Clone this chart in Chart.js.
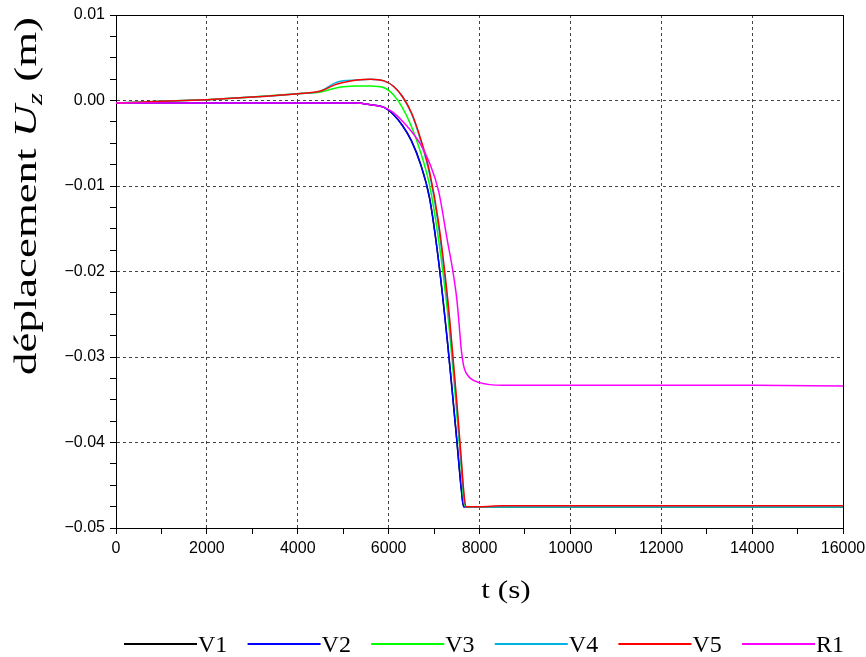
<!DOCTYPE html>
<html>
<head>
<meta charset="utf-8">
<script src="https://cdn.jsdelivr.net/npm/chart.js@4.4.1/dist/chart.umd.min.js"></script>
<style>
    body { margin: 0; background: #fff; }
    #wrap { width: 866px; height: 657px; }
</style>
</head>
<body>
<div id="wrap"><canvas id="canvas1" width="866" height="657"></canvas></div>
<script>
// temps (s)
let temps = [0, 1000, 2000, 3000, 4000, 4500, 4800, 5000, 5300, 5600, 5900, 6100, 6300, 6500,
    6700, 6900, 7100, 7300, 7400, 7500, 7550, 7600, 7650, 7700, 7800, 8000, 8500, 10000, 12000, 14000, 16000];

// déplacement Uz (m) pour chaque cas
let v1 = [-0.0003, -0.0003, -0.0003, -0.0003, -0.0003, -0.0003, -0.0003, -0.0003, -0.0003, -0.0005,
    -0.0008, -0.0016, -0.0029, -0.0047, -0.0074, -0.0114, -0.0188, -0.0285, -0.0340, -0.0397, -0.0427,
    -0.0455, -0.0475, -0.0475, -0.0475, -0.0475, -0.0475, -0.0475, -0.0475, -0.0475, -0.0475];
let v2 = [-0.0003, -0.0003, -0.0003, -0.0003, -0.0003, -0.0003, -0.0003, -0.0003, -0.0003, -0.0005,
    -0.0008, -0.0016, -0.0029, -0.0047, -0.0074, -0.0114, -0.0188, -0.0285, -0.0340, -0.0397, -0.0427,
    -0.0455, -0.0475, -0.0475, -0.0475, -0.0475, -0.0475, -0.0475, -0.0475, -0.0475, -0.0475];
let v3 = [-0.0003, -0.0001, 0.0001, 0.0004, 0.0008, 0.0010, 0.0014, 0.0016, 0.0017, 0.0017,
    0.0015, 0.0007, -0.0008, -0.0030, -0.0060, -0.0099, -0.0163, -0.0249, -0.0305, -0.0365, -0.0397,
    -0.0430, -0.0465, -0.0475, -0.0475, -0.0475, -0.0475, -0.0475, -0.0475, -0.0475, -0.0475];
let v4 = [-0.0003, -0.0001, 0.0001, 0.0004, 0.0008, 0.0011, 0.0020, 0.0023, 0.0024, 0.0025,
    0.0023, 0.0017, 0.0005, -0.0015, -0.0046, -0.0086, -0.0148, -0.0238, -0.0295, -0.0358, -0.0392,
    -0.0425, -0.0460, -0.0475, -0.0475, -0.0475, -0.0475, -0.0475, -0.0475, -0.0475, -0.0475];
let v5 = [-0.0003, -0.0001, 0.0001, 0.0004, 0.0008, 0.0011, 0.0018, 0.0021, 0.0024, 0.0025,
    0.0023, 0.0017, 0.0005, -0.0014, -0.0044, -0.0083, -0.0143, -0.0232, -0.0290, -0.0352, -0.0386,
    -0.0420, -0.0455, -0.0475, -0.0475, -0.0475, -0.0474, -0.0474, -0.0474, -0.0474, -0.0474];
let r1 = [-0.0003, -0.0003, -0.0003, -0.0003, -0.0003, -0.0003, -0.0003, -0.0003, -0.0003, -0.0005,
    -0.0008, -0.0014, -0.0024, -0.0036, -0.0051, -0.0073, -0.0106, -0.0166, -0.0195, -0.0232, -0.0261,
    -0.0292, -0.0310, -0.0318, -0.0325, -0.0330, -0.0333, -0.0333, -0.0333, -0.0333, -0.0334];

let noms = ['V1', 'V2', 'V3', 'V4', 'V5', 'R1'];
let series = [v1, v2, v3, v4, v5, r1];
let couleurs = ['#000000', '#0000ff', '#00ff00', '#00b4e6', '#ff0000', '#ff00ff'];
let ordres = [6, 5, 4, 3, 2, 1];

// ticks
let xMin = 0, xMax = 16000, xPas = 1000, xMajeur = 2000;
let yMin = -0.05, yMax = 0.01, yPas = 0.0025, yMajeur = 0.01;

function estMajeurY(v) {
    return Math.abs(v / yMajeur - Math.round(v / yMajeur)) < 1e-6;
}
function estMajeurX(v) {
    return v % xMajeur === 0;
}

let datasets = series.map(function (vals, i) {
    return {
        label: noms[i],
        data: temps.map(function (t, j) { return {x: t, y: vals[j]}; }),
        borderColor: couleurs[i],
        backgroundColor: couleurs[i],
        borderWidth: 1.5,
        pointRadius: 0,
        cubicInterpolationMode: 'monotone',
        order: ordres[i]
    };
});

// titres des axes, cadre et légende
let decor = {
    id: 'decor',
    afterDraw: function (chart) {
        let ctx = chart.ctx;
        let area = chart.chartArea;
        ctx.save();
        // cadre haut et droit
        ctx.strokeStyle = '#000';
        ctx.lineWidth = 1;
        ctx.beginPath();
        ctx.moveTo(area.left, area.top + 0.5);
        ctx.lineTo(area.right + 0.5, area.top + 0.5);
        ctx.lineTo(area.right + 0.5, area.bottom);
        ctx.stroke();

        ctx.fillStyle = '#000';
        // titre x
        ctx.font = '26px "Liberation Serif"';
        ctx.textAlign = 'center';
        ctx.textBaseline = 'alphabetic';
        ctx.translate(506, 598);
        ctx.scale(1.2, 1);
        ctx.fillText('t (s)', 0, 0);
        ctx.setTransform(1, 0, 0, 1, 0, 0);

        // titre y : déplacement U_z (m)
        let fNormal = '32px "Liberation Serif"';
        let fItal = 'italic 32px "Liberation Serif"';
        let fSub = 'italic 22px "Liberation Serif"';
        let morceaux = [
            {t: 'déplacement ', f: fNormal, dy: 0},
            {t: 'U', f: fItal, dy: 0},
            {t: 'z', f: fSub, dy: 6},
            {t: ' (m)', f: fNormal, dy: 0}
        ];
        let total = 0;
        morceaux.forEach(function (m) {
            ctx.font = m.f;
            m.w = ctx.measureText(m.t).width;
            total += m.w;
        });
        ctx.translate(36, 196);
        ctx.rotate(-Math.PI / 2);
        ctx.scale(1.4, 1);
        ctx.textAlign = 'left';
        let x = -total / 2;
        morceaux.forEach(function (m) {
            ctx.font = m.f;
            ctx.fillText(m.t, x, m.dy);
            x += m.w;
        });
        ctx.setTransform(1, 0, 0, 1, 0, 0);

        // légende
        ctx.font = '24px "Liberation Serif"';
        ctx.textAlign = 'left';
        let ly = 644;
        noms.forEach(function (nom, i) {
            let lx = 124 + i * 123.6;
            ctx.strokeStyle = couleurs[i];
            ctx.lineWidth = 2;
            ctx.beginPath();
            ctx.moveTo(lx, ly);
            ctx.lineTo(lx + 73, ly);
            ctx.stroke();
            ctx.fillStyle = '#000';
            ctx.fillText(nom, lx + 74, ly + 8);
        });
        ctx.restore();
    }
};

let ctx1 = document.getElementById('canvas1').getContext('2d');
let graphe = new Chart(ctx1, {
    type: 'line',
    data: {datasets: datasets},
    options: {
        responsive: false,
        animation: false,
        devicePixelRatio: 1,
        layout: {padding: {left: 0, top: 15, right: 23, bottom: 0}},
        plugins: {
            legend: {display: false},
            tooltip: {enabled: false}
        },
        scales: {
            x: {
                type: 'linear',
                min: xMin,
                max: xMax,
                afterFit: function (s) {
                    s.height = 129;
                    s.paddingRight = 0;
                    s.paddingLeft = 0;
                },
                ticks: {
                    stepSize: xPas,
                    autoSkip: false,
                    maxRotation: 0,
                    padding: 5,
                    color: '#000',
                    font: {family: '"Liberation Sans", Arial', size: 16},
                    callback: function (v) { return estMajeurX(v) ? String(v) : ''; }
                },
                grid: {
                    color: function (c) { return estMajeurX(c.tick.value) ? '#444' : 'rgba(0,0,0,0)'; },
                    tickColor: '#000',
                    tickLength: 6,
                    lineWidth: 1
                },
                border: {color: '#000', width: 1, dash: [3, 3]}
            },
            y: {
                type: 'linear',
                min: yMin,
                max: yMax,
                afterFit: function (s) {
                    s.width = 116;
                    s.paddingTop = 0;
                    s.paddingBottom = 0;
                },
                ticks: {
                    stepSize: yPas,
                    autoSkip: false,
                    padding: 5,
                    color: '#000',
                    font: {family: '"Liberation Sans", Arial', size: 16},
                    callback: function (v) {
                        if (!estMajeurY(v)) return '';
                        let r = Math.round(v * 100) / 100;
                        if (r === 0) return '0.00';
                        return (r < 0 ? '\u2212' : '') + Math.abs(r).toFixed(2);
                    }
                },
                grid: {
                    color: function (c) { return estMajeurY(c.tick.value) ? '#444' : 'rgba(0,0,0,0)'; },
                    tickColor: '#000',
                    tickLength: 6,
                    lineWidth: 1
                },
                border: {color: '#000', width: 1, dash: [3, 3]}
            }
        }
    },
    plugins: [decor]
});
</script>
</body>
</html>
